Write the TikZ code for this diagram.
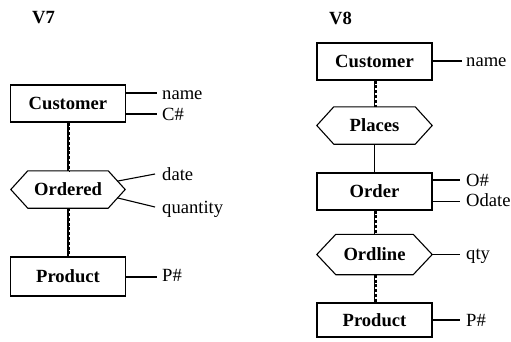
\documentclass[tikz,border=0pt]{standalone}
\usepackage{fontspec}
\setmainfont{Liberation Serif}
\usetikzlibrary{calc}
\newcommand\figfs{\fontsize{18.6pt}{22pt}\selectfont}
\begin{document}
\begin{tikzpicture}[x=1pt,y=-1pt,
  ent/.style={draw, line width=1.1pt, minimum width=115pt, minimum height=37pt, inner sep=0pt, font=\figfs\bfseries, text height=12.3pt, text depth=0pt},
  rel/.style={inner sep=0pt, minimum height=37pt, font=\figfs\bfseries, text height=12.3pt, text depth=0pt},
  att/.style={anchor=base west, inner sep=0pt, font=\figfs},
  ttl/.style={anchor=base west, inner sep=0pt, font=\figfs\bfseries},
  link/.style={line width=1.1pt},
  opt/.style={line width=1.5pt, dash pattern=on 3pt off 1.8pt}
]
\useasboundingbox (0,0) rectangle (511,341);

% ---------- V7 ----------
\node[ttl] (v7) at (32,23) {V7};
\node[ent] (c7) at (68,103.5) {Customer};
\node[rel, minimum width=80pt] (od7) at (68,189.5) {Ordered};
\node[ent, minimum height=39pt] (p7) at (68,276.5) {Product};

\draw[link] (od7.north west) -- (od7.north east) -- ([xshift=17pt]od7.east) -- (od7.south east) -- (od7.south west) -- ([xshift=-17pt]od7.west) -- cycle;

\draw[link] (c7.south) -- (od7.north);
\draw[opt] ([xshift=1.7pt]c7.south) -- ([xshift=1.7pt]od7.north);
\draw[link] (od7.south) -- (p7.north);
\draw[opt] ([xshift=1.7pt]od7.south) -- ([xshift=1.7pt]p7.north);

\coordinate (k7a) at (157,93);
\coordinate (k7b) at (157,114);
\node[att] (t7a) at (162,99.5) {name};
\node[att] (t7b) at (162,120.7) {C\#};
\draw[link] (c7.east |- k7a) -- (k7a);
\draw[link] (c7.east |- k7b) -- (k7b);

\coordinate (k7c) at (155,174);
\coordinate (k7d) at (155,207);
\node[att] (t7c) at (162,180) {date};
\node[att] (t7d) at (162,213) {quantity};
\draw[link] ($(od7.north east)!0.55!([xshift=17pt]od7.east)$) -- (k7c);
\draw[link] ($(od7.south east)!0.55!([xshift=17pt]od7.east)$) -- (k7d);

\coordinate (k7e) at (157,277);
\node[att] (t7e) at (162,281.7) {P\#};
\draw[link] (p7.east |- k7e) -- (k7e);

% ---------- V8 ----------
\node[ttl] (v8) at (329,24) {V8};
\node[ent] (c8) at (374.5,61.5) {Customer};
\node[rel, minimum width=81pt] (pl8) at (374.5,125.5) {Places};
\node[ent] (o8) at (374.5,191.5) {Order};
\node[rel, minimum width=77pt, minimum height=40pt] (ol8) at (374.5,254.5) {Ordline};
\node[ent, minimum height=34pt] (p8) at (374.5,320) {Product};

\draw[link] (pl8.north west) -- (pl8.north east) -- ([xshift=17pt]pl8.east) -- (pl8.south east) -- (pl8.south west) -- ([xshift=-17pt]pl8.west) -- cycle;
\draw[link] (ol8.north west) -- (ol8.north east) -- ([xshift=19pt]ol8.east) -- (ol8.south east) -- (ol8.south west) -- ([xshift=-19pt]ol8.west) -- cycle;

\draw[link] (c8.south) -- (pl8.north);
\draw[opt] ([xshift=1.7pt]c8.south) -- ([xshift=1.7pt]pl8.north);
\draw[link] (pl8.south) -- (o8.north);
\draw[link] (o8.south) -- (ol8.north);
\draw[opt] ([xshift=1.7pt]o8.south) -- ([xshift=1.7pt]ol8.north);
\draw[link] (ol8.south) -- (p8.north);
\draw[opt] ([xshift=1.7pt]ol8.south) -- ([xshift=1.7pt]p8.north);

\coordinate (k8a) at (462,61);
\node[att] (t8a) at (466,66.5) {name};
\draw[link] (c8.east |- k8a) -- (k8a);

\coordinate (k8b) at (460,180);
\coordinate (k8c) at (460,201.7);
\node[att] (t8b) at (466,186.7) {O\#};
\node[att] (t8c) at (466,206.7) {Odate};
\draw[link] (o8.east |- k8b) -- (k8b);
\draw[link] (o8.east |- k8c) -- (k8c);

\coordinate (k8d) at (460,254.5);
\node[att] (t8d) at (466,259.5) {qty};
\draw[link] ([xshift=19pt]ol8.east) -- (k8d);

\coordinate (k8e) at (460,320);
\node[att] (t8e) at (466,326.5) {P\#};
\draw[link] (p8.east |- k8e) -- (k8e);
\end{tikzpicture}
\end{document}
